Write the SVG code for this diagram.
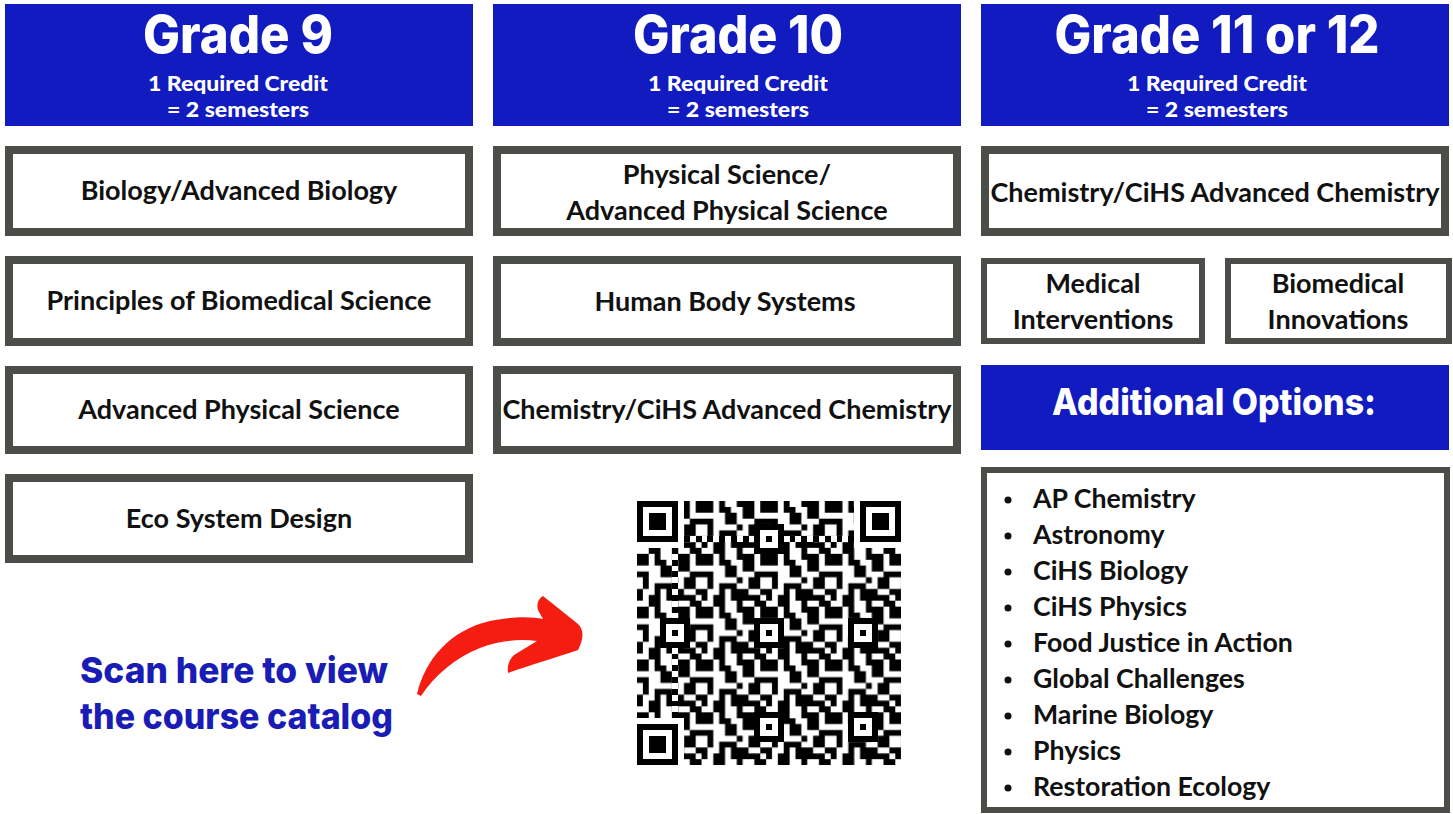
<svg xmlns="http://www.w3.org/2000/svg" width="1453" height="814" viewBox="0 0 1453 814">
<defs>
<style>
.hdr{fill:#111bbf}
.box{fill:#fff;stroke:#4b4d48;stroke-width:8}
.box6{fill:#fff;stroke:#4b4d48;stroke-width:6}
.ht{font-family:Inter,"Liberation Sans",sans-serif;font-weight:800;fill:#fff;text-anchor:middle}
.hs{font-family:Lato,"Liberation Sans",sans-serif;font-weight:900;font-size:20px;fill:#fff;text-anchor:middle}
.bt{font-family:Lato,"Liberation Sans",sans-serif;font-weight:700;font-size:27px;fill:#111;text-anchor:middle}
.li{font-family:Lato,"Liberation Sans",sans-serif;font-weight:700;font-size:26.7px;fill:#111}
.scan{font-family:Inter,"Liberation Sans",sans-serif;font-weight:800;font-size:36px;fill:#1a1db5}
</style>
<pattern id="qd" patternUnits="userSpaceOnUse" x="0" y="0" width="11" height="9">
<path fill="#000" d="M0 0h2v2h-2zM3 0h1v1h-1zM6 0h3v1h-3zM10 0h1v2h-1zM3 1h2v1h-2zM7 1h2v2h-2zM0 3h2v1h-2zM4 2h2v2h-2zM9 3h2v1h-2zM1 4h1v2h-1zM6 4h1v1h-1zM8 4h2v2h-2zM3 5h3v1h-3zM0 6h1v2h-1zM3 6h1v1h-1zM5 6h3v2h-3zM10 6h1v1h-1zM2 7h2v2h-2zM8 7h2v1h-2zM6 8h1v1h-1zM9 8h2v1h-2z"/>
</pattern>
<g id="finder"><rect x="0" y="0" width="7" height="7" fill="#000"/><rect x="1" y="1" width="5" height="5" fill="#fff"/><rect x="2" y="2" width="3" height="3" fill="#000"/></g>
<g id="align"><rect x="-2" y="-2" width="5" height="5" fill="#000"/><rect x="-1" y="-1" width="3" height="3" fill="#fff"/><rect x="0" y="0" width="1" height="1" fill="#000"/></g>
</defs>
<rect width="1453" height="814" fill="#fff"/>

<g id="grade9-header">
<rect class="hdr" x="5" y="4" width="468" height="122"/>
<text class="ht" x="238" y="53" font-size="52" textLength="190" lengthAdjust="spacingAndGlyphs">Grade 9</text>
<text class="hs" x="238" y="91" textLength="180" lengthAdjust="spacingAndGlyphs">1 Required Credit</text>
<text class="hs" x="238" y="117" textLength="142" lengthAdjust="spacingAndGlyphs">= 2 semesters</text>
</g>
<g id="grade10-header">
<rect class="hdr" x="493" y="4" width="468" height="122"/>
<text class="ht" x="738" y="53" font-size="52" textLength="210" lengthAdjust="spacingAndGlyphs">Grade 10</text>
<text class="hs" x="738" y="91" textLength="180" lengthAdjust="spacingAndGlyphs">1 Required Credit</text>
<text class="hs" x="738" y="117" textLength="142" lengthAdjust="spacingAndGlyphs">= 2 semesters</text>
</g>
<g id="grade11-header">
<rect class="hdr" x="981" y="4" width="468" height="122"/>
<text class="ht" x="1217" y="53" font-size="52" textLength="325" lengthAdjust="spacingAndGlyphs">Grade 11 or 12</text>
<text class="hs" x="1217" y="91" textLength="180" lengthAdjust="spacingAndGlyphs">1 Required Credit</text>
<text class="hs" x="1217" y="117" textLength="142" lengthAdjust="spacingAndGlyphs">= 2 semesters</text>
</g>

<g id="biology"><rect class="box" x="9" y="150" width="460" height="82"/><text class="bt" x="239" y="200">Biology/Advanced Biology</text></g>
<g id="pbs"><rect class="box" x="9" y="260" width="460" height="82"/><text class="bt" x="239" y="310">Principles of Biomedical Science</text></g>
<g id="aps9"><rect class="box" x="9" y="370" width="460" height="80"/><text class="bt" x="239" y="419">Advanced Physical Science</text></g>
<g id="eco"><rect class="box" x="9" y="478" width="460" height="81"/><text class="bt" x="239" y="528">Eco System Design</text></g>

<g id="physci"><rect class="box" x="497" y="150" width="460" height="82"/><text class="bt" x="727" y="184">Physical Science/</text><text class="bt" x="727" y="220">Advanced Physical Science</text></g>
<g id="hbs"><rect class="box" x="497" y="260" width="460" height="82"/><text class="bt" x="725" y="311">Human Body Systems</text></g>
<g id="chem10"><rect class="box" x="497" y="370" width="460" height="80"/><text class="bt" x="727" y="419">Chemistry/CiHS Advanced Chemistry</text></g>

<g id="chem11"><rect class="box" x="985" y="150" width="460" height="82"/><text class="bt" x="1215" y="202">Chemistry/CiHS Advanced Chemistry</text></g>
<g id="medint"><rect class="box6" x="984" y="261" width="218" height="80"/><text class="bt" x="1093" y="293">Medical</text><text class="bt" x="1093" y="329">Interventions</text></g>
<g id="bioinn"><rect class="box6" x="1228" y="261" width="221" height="80"/><text class="bt" x="1338" y="293">Biomedical</text><text class="bt" x="1338" y="329">Innovations</text></g>
<g id="addopt"><rect class="hdr" x="981" y="365" width="468" height="85"/><text class="ht" x="1214" y="415" font-size="37" textLength="324" lengthAdjust="spacingAndGlyphs">Additional Options:</text></g>

<g id="options">
<rect class="box6" x="984" y="470" width="463" height="340"/>
<g fill="#111"><circle cx="1008" cy="500" r="3.5"/><circle cx="1008" cy="536" r="3.5"/><circle cx="1008" cy="572" r="3.5"/><circle cx="1008" cy="608" r="3.5"/><circle cx="1008" cy="644" r="3.5"/><circle cx="1008" cy="680" r="3.5"/><circle cx="1008" cy="716" r="3.5"/><circle cx="1008" cy="752" r="3.5"/><circle cx="1008" cy="788" r="3.5"/></g>
<text class="li" x="1033" y="508">AP Chemistry</text>
<text class="li" x="1033" y="544">Astronomy</text>
<text class="li" x="1033" y="580">CiHS Biology</text>
<text class="li" x="1033" y="616">CiHS Physics</text>
<text class="li" x="1033" y="652">Food Justice in Action</text>
<text class="li" x="1033" y="688">Global Challenges</text>
<text class="li" x="1033" y="724">Marine Biology</text>
<text class="li" x="1033" y="760">Physics</text>
<text class="li" x="1033" y="796">Restoration Ecology</text>
</g>

<g id="scan-label">
<text class="scan" x="80" y="683" textLength="308" lengthAdjust="spacingAndGlyphs">Scan here to view</text>
<text class="scan" x="80" y="729" textLength="313" lengthAdjust="spacingAndGlyphs">the course catalog</text>
</g>

<g id="connectors">
<path fill="#f51c12" d="M417,694 C425,660 450,630 490,621 C515,616 532,617 543,619 L538,610 C536,604 539,598 543,596 L578,624 C584,630 584,638 578,650 C555,658 530,665 508,673 C507,666 509,660 514,655 L537,641 C520,639 500,640 480,648 C455,658 435,675 421,696 Z"/>
</g>

<g id="qr" transform="translate(637,501) scale(5.87)" shape-rendering="crispEdges">
<rect x="0" y="0" width="45" height="45" fill="#fff"/>
<rect x="0" y="0" width="45" height="45" fill="url(#qd)"/>
<rect x="0" y="0" width="8" height="8" fill="#fff"/>
<rect x="37" y="0" width="8" height="8" fill="#fff"/>
<rect x="0" y="37" width="8" height="8" fill="#fff"/>
<use href="#finder" x="0" y="0"/>
<use href="#finder" x="38" y="0"/>
<use href="#finder" x="0" y="38"/>
<rect x="8" y="6" width="29" height="1" fill="#fff"/>
<rect x="6" y="8" width="1" height="29" fill="#fff"/>
<path fill="#000" d="M8 6h1v1h-1zM10 6h1v1h-1zM12 6h1v1h-1zM14 6h1v1h-1zM16 6h1v1h-1zM18 6h1v1h-1zM26 6h1v1h-1zM28 6h1v1h-1zM30 6h1v1h-1zM32 6h1v1h-1zM34 6h1v1h-1zM36 6h1v1h-1zM6 8h1v1h-1zM6 10h1v1h-1zM6 12h1v1h-1zM6 14h1v1h-1zM6 16h1v1h-1zM6 18h1v1h-1zM6 26h1v1h-1zM6 28h1v1h-1zM6 30h1v1h-1zM6 32h1v1h-1zM6 34h1v1h-1zM6 36h1v1h-1z"/>
<use href="#align" x="22" y="6"/>
<use href="#align" x="6" y="22"/>
<use href="#align" x="22" y="22"/>
<use href="#align" x="38" y="22"/>
<use href="#align" x="22" y="38"/>
<use href="#align" x="38" y="38"/>
</g>
</svg>
